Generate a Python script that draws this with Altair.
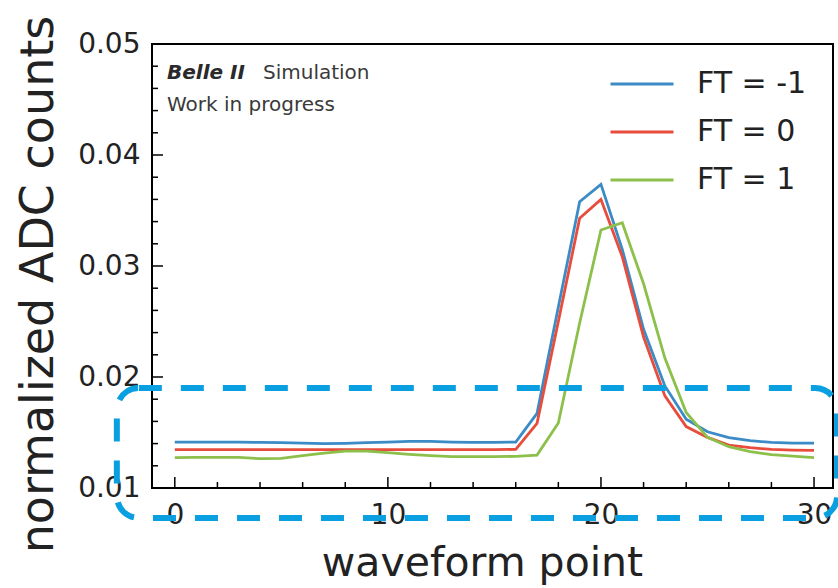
import altair as alt
import pandas as pd

# ---- data ----
wave_points = list(range(31))
ft_minus1 = [0.01414, 0.01414, 0.01414, 0.01414, 0.01411, 0.01408, 0.01405, 0.01399,
             0.01402, 0.01408, 0.01414, 0.01420, 0.01420, 0.01414, 0.01411, 0.01411,
             0.01414, 0.01673, 0.02630, 0.03579, 0.03736, 0.03150, 0.02430, 0.01920,
             0.01620, 0.01507, 0.01453, 0.01426, 0.01411, 0.01405, 0.01405]
ft_0 = [0.01345, 0.01345, 0.01345, 0.01345, 0.01345, 0.01345, 0.01345, 0.01345,
        0.01345, 0.01345, 0.01345, 0.01345, 0.01345, 0.01345, 0.01345, 0.01345,
        0.01348, 0.01583, 0.02500, 0.03430, 0.03600, 0.03084, 0.02360, 0.01830,
        0.01553, 0.01456, 0.01387, 0.01363, 0.01348, 0.01342, 0.01339]
ft_1 = [0.01273, 0.01276, 0.01276, 0.01276, 0.01264, 0.01267, 0.01291, 0.01315,
        0.01333, 0.01333, 0.01318, 0.01303, 0.01291, 0.01282, 0.01282, 0.01282,
        0.01285, 0.01297, 0.01585, 0.02486, 0.03324, 0.03390, 0.02840, 0.02170,
        0.01680, 0.01456, 0.01372, 0.01327, 0.01300, 0.01288, 0.01273]
series_names = ["FT = -1", "FT = 0", "FT = 1"]
series_colors = ["#3b8bc6", "#e74c3c", "#8cc04b"]

x_major = [0, 10, 20, 30]
x_minor = [2, 4, 6, 8, 12, 14, 16, 18, 22, 24, 26, 28]
y_major = [0.01, 0.02, 0.03, 0.04, 0.05]
y_minor = [0.012, 0.014, 0.016, 0.018, 0.022, 0.024, 0.026, 0.028,
           0.032, 0.034, 0.036, 0.038, 0.042, 0.044, 0.046, 0.048]
x_domain = [-1.07, 30.89]
y_domain = [0.01, 0.05]

# highlighted region (dashed rounded box) in data units
box_x = [-2.72]
box_x2 = [31.08]
box_y = [0.0190]
box_y2 = [0.0073]

W, H = 681, 444
FONT = "DejaVu Sans"
TXT = "#222222"

rows = []
for name, vals in zip(series_names, [ft_minus1, ft_0, ft_1]):
    for p, v in zip(wave_points, vals):
        rows.append({"point": p, "value": v, "series": name})
df = pd.DataFrame(rows)

xscale = alt.Scale(domain=x_domain, nice=False, zero=False)
yscale = alt.Scale(domain=y_domain, nice=False, zero=False)

xaxis = alt.Axis(values=x_major, labelFontSize=28, labelFont=FONT, labelColor=TXT,
                 labelPadding=13, ticks=False, tickSize=0, domain=False, grid=False,
                 title="waveform point", titleFontSize=41, titleFont=FONT,
                 titleFontWeight="normal", titleColor=TXT, titleX=330, titleY=87,
                 titleBaseline="alphabetic", titleAlign="center", format="d")
yaxis = alt.Axis(values=y_major, labelFontSize=28, labelFont=FONT, labelColor=TXT,
                 labelPadding=12, ticks=False, tickSize=0, domain=False, grid=False,
                 format=".2f", title="normalized ADC counts", titleFontSize=46,
                 titleFont=FONT, titleFontWeight="normal", titleColor=TXT,
                 titleX=-100, titleY=240, titleBaseline="alphabetic", titleAlign="center")

lines = alt.Chart(df).mark_line(strokeWidth=2.8).encode(
    x=alt.X("point:Q", scale=xscale, axis=xaxis),
    y=alt.Y("value:Q", scale=yscale, axis=yaxis),
    color=alt.Color("series:N",
                    scale=alt.Scale(domain=series_names, range=series_colors),
                    sort=series_names,
                    legend=alt.Legend(title=None, orient="none", legendX=457, legendY=7,
                                      symbolType="stroke", symbolSize=3969,
                                      symbolStrokeWidth=3, labelFontSize=30,
                                      labelFont=FONT, labelColor=TXT, labelOffset=22,
                                      rowPadding=-3, padding=0)),
)

xt_major = alt.Chart(pd.DataFrame({"point": x_major})).mark_rule(
    color="black", strokeWidth=1.5).encode(
    x=alt.X("point:Q", scale=xscale, axis=xaxis), y=alt.value(H), y2=alt.value(H - 11))
xt_minor = alt.Chart(pd.DataFrame({"point": x_minor})).mark_rule(
    color="black", strokeWidth=1.5).encode(
    x=alt.X("point:Q", scale=xscale, axis=xaxis), y=alt.value(H), y2=alt.value(H - 6))
yt_major = alt.Chart(pd.DataFrame({"value": y_major})).mark_rule(
    color="black", strokeWidth=1.5).encode(
    y=alt.Y("value:Q", scale=yscale, axis=yaxis), x=alt.value(0), x2=alt.value(11))
yt_minor = alt.Chart(pd.DataFrame({"value": y_minor})).mark_rule(
    color="black", strokeWidth=1.5).encode(
    y=alt.Y("value:Q", scale=yscale, axis=yaxis), x=alt.value(0), x2=alt.value(6))

box = alt.Chart(pd.DataFrame({"point": box_x, "point2": box_x2,
                              "value": box_y, "value2": box_y2})).mark_rect(
    fillOpacity=0, stroke="#0a9fe0", strokeWidth=6, strokeDash=[23, 19],
    cornerRadius=22).encode(
    x=alt.X("point:Q", scale=xscale, axis=xaxis), x2="point2:Q",
    y=alt.Y("value:Q", scale=yscale, axis=yaxis), y2="value2:Q")

belle = alt.Chart(pd.DataFrame({"t": ["Belle II"]})).mark_text(
    align="left", baseline="alphabetic", fontSize=20, font=FONT, fontStyle="italic",
    fontWeight="bold", color="#2a2a2a").encode(x=alt.value(15), y=alt.value(35), text="t:N")
sim = alt.Chart(pd.DataFrame({"t": ["Simulation"]})).mark_text(
    align="left", baseline="alphabetic", fontSize=20, font=FONT, color="#3a3a3a").encode(
    x=alt.value(111), y=alt.value(35), text="t:N")
wip = alt.Chart(pd.DataFrame({"t": ["Work in progress"]})).mark_text(
    align="left", baseline="alphabetic", fontSize=20, font=FONT, color="#3a3a3a").encode(
    x=alt.value(15), y=alt.value(67), text="t:N")

chart = alt.layer(lines, xt_major, xt_minor, yt_major, yt_minor, belle, sim, wip, box).properties(
    width=W, height=H,
    autosize=alt.AutoSizeParams(type="none"),
    padding={"left": 152, "top": 44, "right": 5, "bottom": 100},
).configure(background="white").configure_view(stroke="black", strokeWidth=2)

chart.save("out.html", embed_options={"renderer": "svg", "actions": False})
